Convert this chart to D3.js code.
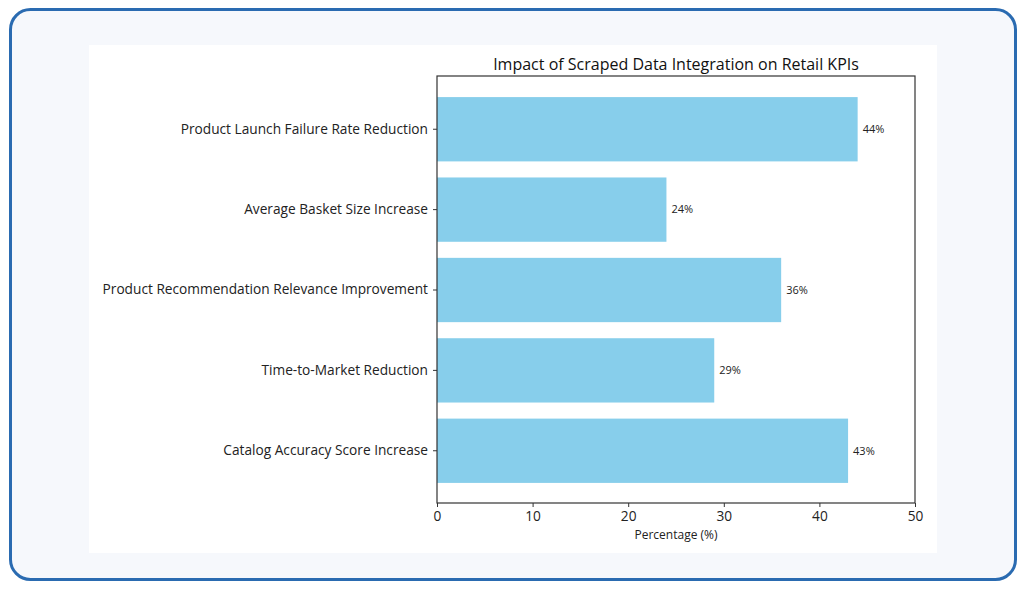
<!DOCTYPE html>
<html>
<head>
<meta charset="utf-8">
<script src="https://cdn.jsdelivr.net/npm/d3@7"></script>
<style>
  html, body { margin: 0; padding: 0; background: #ffffff; }
  svg { display: block; font-family: "Open Sans", "DejaVu Sans", sans-serif; }
</style>
</head>
<body>
<svg id="chart"></svg>
<script>
(() => {

  // top-to-bottom order as drawn
  const categories = [
    'Product Launch Failure Rate Reduction',
    'Average Basket Size Increase',
    'Product Recommendation Relevance Improvement',
    'Time-to-Market Reduction',
    'Catalog Accuracy Score Increase'
  ];
  const values = [44, 24, 36, 29, 43];
  const xTicks = [0, 10, 20, 30, 40, 50];

  const data = categories.map((name, i) => ({ name: name, value: values[i] }));

  const svgWidth = 1026;
  const svgHeight = 589;
  const plot = { left: 437, right: 915, top: 76, bottom: 503 };

  const svg = d3.select('#chart')
    .attr('width', svgWidth)
    .attr('height', svgHeight);

  // outer card
  svg.append('rect')
    .attr('x', 10.5).attr('y', 9.5)
    .attr('width', 1005).attr('height', 570)
    .attr('rx', 20).attr('ry', 20)
    .attr('fill', '#f6f8fc')
    .attr('stroke', '#2a6bb1')
    .attr('stroke-width', 3);

  // white figure panel
  svg.append('rect')
    .attr('x', 89).attr('y', 45)
    .attr('width', 848).attr('height', 508)
    .attr('fill', '#ffffff');

  const xScale = d3.scaleLinear()
    .domain([0, 50])
    .range([plot.left, plot.right]);

  const yScale = d3.scaleBand()
    .domain(categories)
    .range([plot.top + 1, plot.bottom])
    .paddingInner(0.2)
    .paddingOuter(0.25);

  const g = svg.append('g');

  g.selectAll('.bar')
    .data(data)
    .enter()
    .append('rect')
    .attr('class', 'bar')
    .attr('x', xScale(0))
    .attr('y', d => yScale(d.name))
    .attr('width', d => xScale(d.value) - xScale(0))
    .attr('height', yScale.bandwidth())
    .attr('fill', '#87ceeb');

  g.selectAll('.val')
    .data(data)
    .enter()
    .append('text')
    .attr('class', 'val')
    .attr('x', d => xScale(d.value) + 5)
    .attr('y', d => yScale(d.name) + yScale.bandwidth() / 2)
    .attr('dy', '0.35em')
    .attr('font-size', 11)
    .attr('fill', '#222')
    .text(d => `${d.value}%`);

  // axes
  const xAxis = g.append('g')
    .attr('transform', `translate(0, ${plot.bottom})`)
    .call(d3.axisBottom(xScale).tickValues(xTicks).tickSize(4).tickPadding(4));

  const yAxis = g.append('g')
    .attr('transform', `translate(${plot.left}, 0)`)
    .call(d3.axisLeft(yScale).tickSize(4).tickPadding(5));

  [xAxis, yAxis].forEach(ax => {
    ax.select('.domain').remove();
    ax.selectAll('.tick line').attr('stroke', '#333');
    ax.selectAll('.tick text')
      .attr('fill', '#222')
      .attr('font-size', 13.7)
      .attr('font-family', '"Open Sans", "DejaVu Sans", sans-serif');
  });

  // frame (spines)
  g.append('rect')
    .attr('x', plot.left).attr('y', plot.top)
    .attr('width', plot.right - plot.left)
    .attr('height', plot.bottom - plot.top)
    .attr('fill', 'none')
    .attr('stroke', '#333')
    .attr('stroke-width', 1.2);

  svg.append('text')
    .attr('x', (plot.left + plot.right) / 2)
    .attr('y', 70)
    .attr('text-anchor', 'middle')
    .attr('font-size', 16)
    .attr('fill', '#111')
    .text('Impact of Scraped Data Integration on Retail KPIs');

  svg.append('text')
    .attr('x', (plot.left + plot.right) / 2)
    .attr('y', 539)
    .attr('text-anchor', 'middle')
    .attr('font-size', 12)
    .attr('fill', '#222')
    .text('Percentage (%)');

})();
</script>
</body>
</html>
